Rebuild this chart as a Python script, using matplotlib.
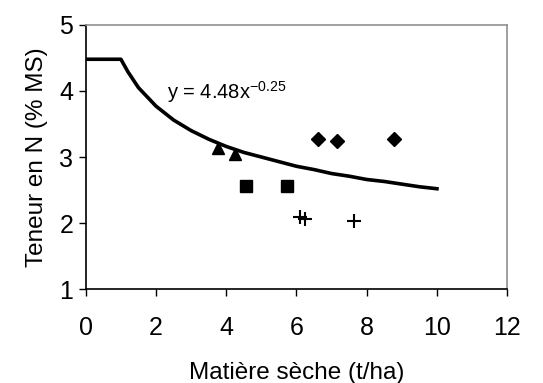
import matplotlib
matplotlib.use("Agg")
import matplotlib.pyplot as plt

plt.rcParams['font.family'] = ['Liberation Sans', 'DejaVu Sans']
plt.rcParams['mathtext.fontset'] = 'custom'
plt.rcParams['mathtext.rm'] = 'Liberation Sans'
plt.rcParams['mathtext.it'] = 'Liberation Sans'

# Critical N dilution curve
curve_x = [0, 1, 1.2, 1.5, 2, 2.5, 3, 3.5, 4, 4.5, 5, 5.5, 6, 6.5, 7, 7.5, 8, 8.5, 9, 9.5, 10]
curve_y = [4.48, 4.48, 4.29, 4.05, 3.77, 3.56, 3.40, 3.27, 3.16, 3.07, 3.00, 2.93,
           2.86, 2.81, 2.75, 2.71, 2.66, 2.63, 2.59, 2.55, 2.52]

tri_x = [3.77, 4.25]
tri_y = [3.13, 3.04]
sq_x = [4.55, 5.73]
sq_y = [2.56, 2.56]
dia_x = [6.6, 7.14, 8.78]
dia_y = [3.27, 3.24, 3.27]
plus_x = [6.09, 6.25, 7.64]
plus_y = [2.09, 2.06, 2.03]

xticks = [0, 2, 4, 6, 8, 10, 12]
yticks = [1, 2, 3, 4, 5]

fig = plt.figure(figsize=(5.43, 3.83), dpi=100)
ax = fig.add_axes([0.158, 0.245, 0.776, 0.690])

ax.plot(curve_x, curve_y, color='black', lw=2.6, solid_joinstyle='round', zorder=2)
ax.plot(tri_x, tri_y, '^', color='black', ms=8.5, ls='none', zorder=3)
ax.plot(sq_x, sq_y, 's', color='black', ms=8, ls='none', zorder=3)
ax.plot(dia_x, dia_y, 'D', color='black', ms=7.5, ls='none', zorder=3)
ax.plot(plus_x, plus_y, '+', color='black', ms=10, mew=1.5, ls='none', zorder=3)

ax.text(2.3, 3.99, r'y = 4.48x$^{\mathregular{-0.25}}$', fontsize=14.5, va='center', ha='left')

ax.set_xlim(0, 12)
ax.set_ylim(1, 5)
ax.set_xticks(xticks)
ax.set_yticks(yticks)
ax.tick_params(axis='both', direction='out', length=5, width=1, labelsize=18, colors='black')
ax.tick_params(axis='x', pad=14)
ax.tick_params(axis='y', pad=4)

for s in ['left', 'bottom']:
    ax.spines[s].set_color('black')
    ax.spines[s].set_linewidth(1.2)
for s in ['top', 'right']:
    ax.spines[s].set_color('#909090')
    ax.spines[s].set_linewidth(1.2)

ax.set_xlabel('Matière sèche (t/ha)', fontsize=17.5, labelpad=16)
ax.set_ylabel('Teneur en N (% MS)', fontsize=17.5, labelpad=8)

fig.savefig('out.png', dpi=100)
